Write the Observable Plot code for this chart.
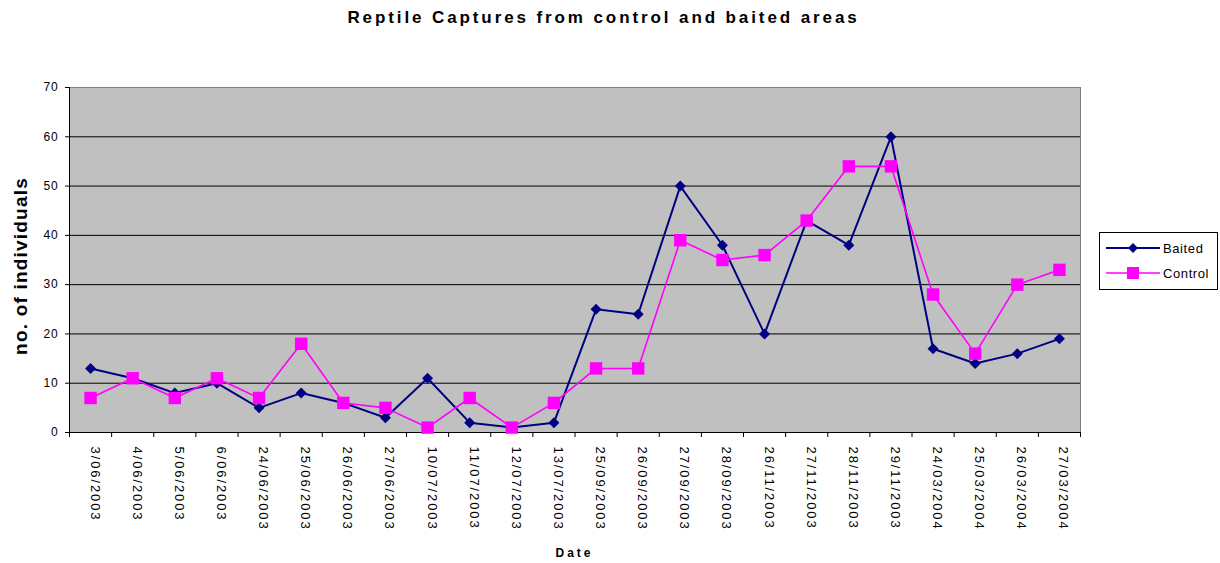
<!DOCTYPE html>
<html>
<head>
<meta charset="utf-8">
<script src="https://cdn.jsdelivr.net/npm/d3@7"></script>
<script src="https://cdn.jsdelivr.net/npm/@observablehq/plot@0.6"></script>
<style>
  body { margin: 0; background: #fff; font-family: "Liberation Sans", Arial, sans-serif; }
  #wrap { position: relative; width: 1220px; height: 563px; overflow: hidden; }
  #title { position: absolute; left: 0; top: 8px; width: 1207px; text-align: center; font-weight: bold; font-size: 17px; letter-spacing: 2.9px; color: #000; }
  #xlabel { position: absolute; left: 473px; width: 203px; top: 546px; text-align: center; font-weight: bold; font-size: 12px; letter-spacing: 3px; }
  #legend { position: absolute; left: 1099px; top: 232px; width: 117px; height: 56px; border: 1px solid #000; background: #fff; }
  #legend .row { position: absolute; left: 6px; height: 16px; display: flex; align-items: center; font-size: 13px; letter-spacing: 0.6px; }
  #legend svg { display: block; margin-right: 3px; }
</style>
</head>
<body>
<div id="wrap">
  <div id="chart"></div>
  <div id="title">Reptile Captures from control and baited areas</div>
  <div id="xlabel">Date</div>
  <div id="legend"></div>
</div>
<script>
const dates = ["3/06/2003","4/06/2003","5/06/2003","6/06/2003","24/06/2003","25/06/2003","26/06/2003","27/06/2003","10/07/2003","11/07/2003","12/07/2003","13/07/2003","25/09/2003","26/09/2003","27/09/2003","28/09/2003","26/11/2003","27/11/2003","28/11/2003","29/11/2003","24/03/2004","25/03/2004","26/03/2004","27/03/2004"];
const baited = [13,11,8,10,5,8,6,3,11,2,1,2,25,24,50,38,20,43,38,60,17,14,16,19];
const control = [7,11,7,11,7,18,6,5,1,7,1,6,13,13,39,35,36,43,54,54,28,16,30,33];
const yTicks = [0,10,20,30,40,50,60,70];
const yLabel = "no. of individuals";
const seriesNames = ["Baited","Control"];
const colors = {Baited: "#000080", Control: "#FF00FF"};

const diamond = {
  draw(ctx, size) {
    const r = Math.sqrt(size / 2);
    ctx.moveTo(0, -r); ctx.lineTo(r, 0); ctx.lineTo(0, r); ctx.lineTo(-r, 0); ctx.closePath();
  }
};

const xi = (d, i) => i + 0.5;

const chart = Plot.plot({
  width: 1220,
  height: 563,
  marginTop: 87,
  marginBottom: 131,
  marginLeft: 69,
  marginRight: 140,
  style: {fontFamily: "'Liberation Sans', Arial, sans-serif", background: "transparent", color: "#000"},
  x: {domain: [0, dates.length]},
  y: {domain: [0, 70]},
  marks: [
    Plot.frame({fill: "#C0C0C0", stroke: "#808080"}),
    Plot.ruleY(yTicks.filter(t => t > 0 && t < 70), {stroke: "#000", strokeWidth: 1}),
    Plot.ruleX([0], {stroke: "#000"}),
    Plot.ruleY([0], {stroke: "#000"}),
    Plot.axisY({ticks: yTicks, tickSize: 4, tickPadding: 7, fontSize: 12, label: null}),
    Plot.axisX({ticks: d3.range(dates.length + 1), tickSize: 5, tickFormat: () => "", label: null}),
    Plot.text(dates, {x: xi, frameAnchor: "bottom", dy: 14, rotate: 90, textAnchor: "start", fontSize: 13}),
    Plot.text([yLabel], {frameAnchor: "left", dx: -49, dy: 6, rotate: -90, textAnchor: "middle", fontSize: 19, fontWeight: "bold"}),
    Plot.line(baited, {x: xi, y: d => d, stroke: colors.Baited, strokeWidth: 2}),
    Plot.dot(baited, {x: xi, y: d => d, symbol: diamond, fill: colors.Baited, r: 4.4}),
    Plot.line(control, {x: xi, y: d => d, stroke: colors.Control, strokeWidth: 1.6}),
    Plot.dot(control, {x: xi, y: d => d, symbol: "square", fill: colors.Control, r: 7})
  ]
});
document.getElementById("chart").appendChild(chart);
const svgSel = d3.select(chart);
svgSel.selectAll("text").filter(function() { return dates.includes(this.textContent); }).attr("letter-spacing", "1.9px");
svgSel.selectAll("text").filter(function() { return this.textContent === yLabel; }).attr("letter-spacing", "1.2px");
svgSel.selectAll('g[aria-label="y-axis tick label"] text').attr("letter-spacing", "0.8px");

// legend
const legend = document.getElementById("legend");
seriesNames.forEach((name, k) => {
  const row = document.createElement("div");
  row.className = "row";
  row.style.top = (k === 0 ? 7 : 32) + "px";
  const sw = d3.create("svg").attr("width", 54).attr("height", 16);
  sw.append("line").attr("x1", 0).attr("x2", 54).attr("y1", 8).attr("y2", 8)
    .attr("stroke", colors[name]).attr("stroke-width", k === 0 ? 2 : 1.6);
  if (k === 0) sw.append("path").attr("d", "M27,3L32,8L27,13L22,8Z").attr("fill", colors[name]);
  else sw.append("rect").attr("x", 21).attr("y", 2).attr("width", 12).attr("height", 12).attr("fill", colors[name]);
  row.appendChild(sw.node());
  const t = document.createElement("span");
  t.textContent = name;
  row.appendChild(t);
  legend.appendChild(row);
});
</script>
</body>
</html>
